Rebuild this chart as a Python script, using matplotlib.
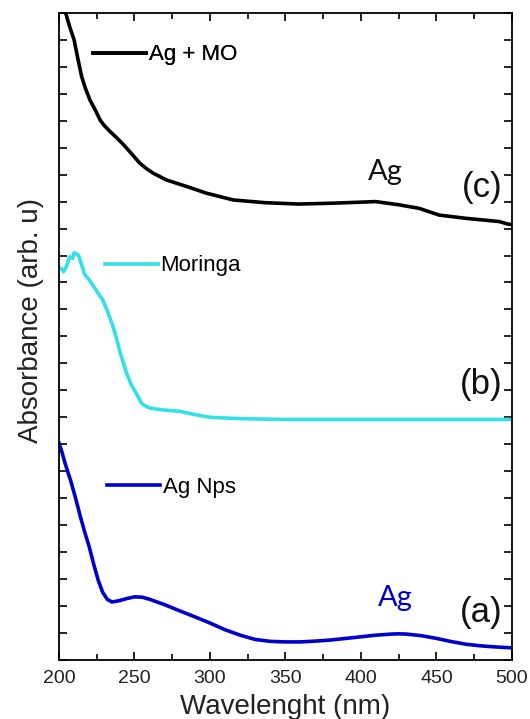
import numpy as np
import matplotlib.pyplot as plt
from matplotlib.lines import Line2D

plt.rcParams['font.family'] = ['Liberation Sans', 'DejaVu Sans']

# (a) Ag Nps
wl_a = [200, 202, 204, 206, 208, 211, 214, 217, 220, 223, 226, 229, 232, 235, 240, 245, 250, 255,
        260, 270, 280, 290, 300, 310, 320, 330, 340, 350, 360, 370, 380, 390, 400, 410, 420, 425,
        430, 440, 450, 460, 470, 480, 490, 500]
abs_a = [8.05, 7.7, 7.3, 6.95, 6.6, 6.0, 5.35, 4.75, 4.2, 3.55, 2.95, 2.5, 2.25, 2.15, 2.2, 2.28, 2.34, 2.33,
         2.25, 2.05, 1.82, 1.6, 1.37, 1.12, 0.92, 0.76, 0.69, 0.67, 0.67, 0.7, 0.74, 0.8, 0.86, 0.92, 0.96, 0.97,
         0.96, 0.9, 0.8, 0.68, 0.58, 0.52, 0.48, 0.45]

# (b) Moringa
wl_b = [200, 202, 203, 205, 207, 209, 210, 212, 213, 215, 217, 220, 223, 226, 229, 232, 235, 238, 240,
        243, 245, 248, 250, 253, 255, 258, 260, 265, 270, 280, 290, 300, 320, 350, 400, 450, 500]
abs_b = [14.55, 14.5, 14.4, 14.6, 14.95, 14.9, 15.1, 15.05, 15.0, 14.65, 14.3, 14.1, 13.85, 13.6, 13.35, 12.95, 12.5,
         11.95, 11.5, 10.95, 10.6, 10.2, 10.0, 9.7, 9.5, 9.4, 9.35, 9.3, 9.27, 9.22, 9.1, 9.0, 8.95, 8.92, 8.92,
         8.92, 8.92]

# (c) Ag + MO
wl_c = [200, 202, 204.4, 207, 210, 212.5, 215, 217.5, 220.5, 224, 227.2, 230, 233.8, 238, 242.6, 248, 253.6,
        258, 262.5, 271.3, 284.6, 297.8, 315.5, 336.5, 358.5, 380.6, 400, 409.8, 425.3, 438.5, 451.8, 469.5,
        491.6, 497, 500]
abs_c = [26.0, 25.0, 24.0, 23.5, 23.0, 22.3, 21.64, 21.2, 20.77, 20.4, 20.03, 19.82, 19.6, 19.38, 19.12, 18.78,
         18.42, 18.22, 18.05, 17.8, 17.56, 17.31, 17.06, 16.96, 16.91, 16.94, 16.98, 17.0, 16.88, 16.75, 16.5,
         16.38, 16.26, 16.17, 16.15]

labels = ['Ag Nps', 'Moringa', 'Ag + MO']
colors = ['#0000cc', '#33e0e6', 'black']

fig = plt.figure(figsize=(5.30, 7.19), dpi=100)
ax = fig.add_axes([0.1113, 0.0821, 0.8547, 0.9])

ax.plot(wl_a, abs_a, color=colors[0], lw=2.6)
ax.plot(wl_b, abs_b, color=colors[1], lw=2.6)
ax.plot(wl_c, abs_c, color=colors[2], lw=2.6)

ax.set_xlim(200, 500)
ax.set_ylim(0, 24)
ax.set_xticks([200, 250, 300, 350, 400, 450, 500])
ax.set_xticks([225, 275, 325, 375, 425, 475], minor=True)
ax.set_yticks(np.arange(0, 25, 1))
ax.set_yticklabels([])
ax.tick_params(axis='both', which='both', direction='in', top=True, right=True, width=1.2)
ax.tick_params(axis='both', which='major', length=6, labelsize=14, labelcolor='#222222')
ax.tick_params(axis='x', which='minor', length=4)
ax.tick_params(axis='x', pad=7)
for s in ax.spines.values():
    s.set_linewidth(1.3)

ax.set_xlabel('Wavelenght (nm)', fontsize=20, color='#222222')
ax.set_ylabel('Absorbance (arb. u)', fontsize=20, color='#222222')
ax.xaxis.set_label_coords(0.5, -0.053)
ax.yaxis.set_label_coords(-0.034, 0.525)

# legends
leg_pos = [(0.106, 0.267), (0.101, 0.609), (0.075, 0.935)]
for lab, col, pos in zip(labels, colors, leg_pos):
    h = Line2D([], [], color=col, lw=2.6)
    lg = ax.legend([h], [lab], loc='center left', bbox_to_anchor=pos, frameon=False,
                   fontsize=16, handlelength=2.4, handletextpad=0.1, borderaxespad=0, borderpad=0)
    ax.add_artist(lg)

ax.text(0.72, 0.754, 'Ag', transform=ax.transAxes, fontsize=21, family='Lato', ha='center', va='center',
        color='#111111')
ax.text(0.978, 0.73, '(c)', transform=ax.transAxes, fontsize=25, ha='right', va='center', color='#111111')
ax.text(0.978, 0.425, '(b)', transform=ax.transAxes, fontsize=25, ha='right', va='center', color='#111111')
ax.text(0.742, 0.096, 'Ag', transform=ax.transAxes, fontsize=21, family='Lato', ha='center', va='center',
        color=colors[0])
ax.text(0.978, 0.074, '(a)', transform=ax.transAxes, fontsize=25, ha='right', va='center', color='#111111')

fig.savefig('out.png', dpi=100)
